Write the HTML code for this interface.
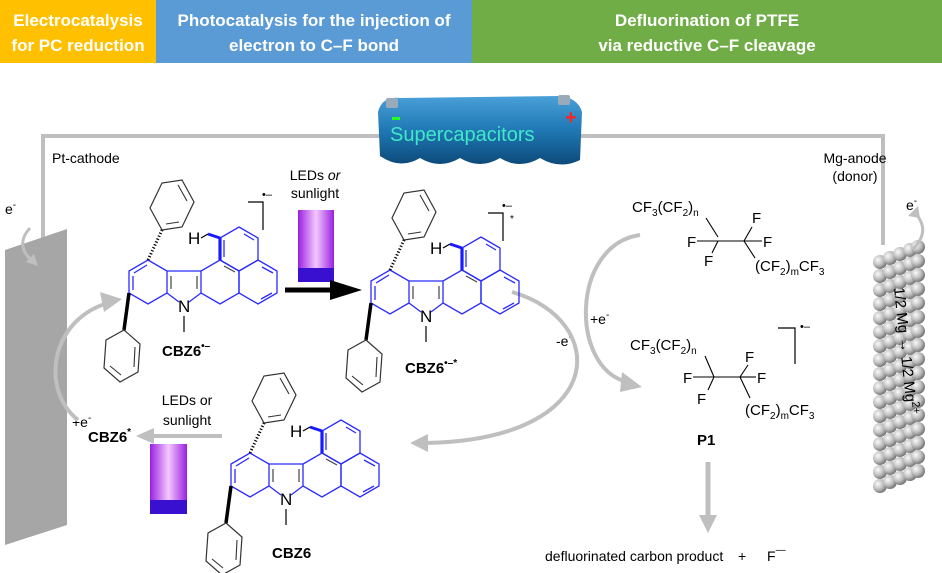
<!DOCTYPE html>
<html><head><meta charset="utf-8"><style>
html,body{margin:0;padding:0;background:#fff;}
svg{display:block;font-family:"Liberation Sans",Arial,sans-serif;}
</style></head><body>
<svg width="942" height="573" viewBox="0 0 942 573" xmlns="http://www.w3.org/2000/svg">
<defs>
 <radialGradient id="sph" cx="35%" cy="35%" r="65%"><stop offset="0" stop-color="#fafafa"/><stop offset="0.6" stop-color="#bdbdbd"/><stop offset="1" stop-color="#7a7a7a"/></radialGradient>
 <linearGradient id="led" x1="0" y1="0" x2="1" y2="0"><stop offset="0" stop-color="#9a20e0"/><stop offset="0.5" stop-color="#f4c8ff"/><stop offset="1" stop-color="#9a20e0"/></linearGradient>
 <linearGradient id="cap" x1="0" y1="0" x2="0" y2="1"><stop offset="0" stop-color="#4aa0d8"/><stop offset="0.5" stop-color="#1f78b4"/><stop offset="1" stop-color="#0d4a7a"/></linearGradient>
 <g id="row">
  <circle cx="0" cy="0" r="7"/><circle cx="10" cy="-4" r="7"/><circle cx="20" cy="-8" r="7"/><circle cx="30" cy="-12" r="7"/><circle cx="38" cy="-15" r="7"/>
 </g>
 <g id="mol">
  <g fill="none" stroke="#2a2aff" stroke-width="1.3">
   <polygon points="0,-22 19,-11 19,11 0,22 -19,11 -19,-11"/>
   <polygon points="72,-22 91,-11 91,11 72,22 53,11 53,-11"/>
   <polygon points="91,-55 110,-44 110,-22 91,-11 72,-22 72,-44"/>
   <polygon points="110,-22 129,-11 129,11 110,22 91,11 91,-11"/>
   <polyline points="19,-11 53,-11"/>
   <polyline points="19,11 31,20"/><polyline points="41,20 53,11"/>
   <line x1="-14" y1="-9" x2="-1" y2="-17"/><line x1="-15" y1="-6" x2="-15" y2="8"/>
   <line x1="96" y1="-48" x2="106" y2="-42"/><line x1="76" y1="-42" x2="76" y2="-25"/>
   <line x1="114" y1="-15" x2="125" y2="-9"/><line x1="113" y1="17" x2="124" y2="11"/>
  </g>
  <g fill="none" stroke="#444" stroke-width="1.2">
   <line x1="23" y1="-6" x2="23" y2="7"/><line x1="49" y1="-6" x2="49" y2="7"/>
   <line x1="76" y1="-16" x2="87" y2="-10"/>
  </g>
  <line x1="72" y1="-22" x2="72" y2="-44" stroke="#1a1aff" stroke-width="3.2"/>
  <line x1="72" y1="-44" x2="60" y2="-48" stroke="#1a1aff" stroke-width="3"/>
  <text x="40" y="-38" font-size="17" fill="#000">H</text>
  <line x1="53" y1="-44" x2="60" y2="-48" stroke="#000" stroke-width="1.2"/>
  <text x="30" y="30" font-size="17" fill="#000">N</text>
  <line x1="36" y1="34" x2="36" y2="50" stroke="#000" stroke-width="1.2"/>
  <line x1="0" y1="-22" x2="14" y2="-52" stroke="#000" stroke-width="3" stroke-dasharray="1.2,2"/>
  <polygon points="14,-52 34,-55 46,-80 34,-102 14,-99 2,-74" fill="none" stroke="#333" stroke-width="1.2"/>
  <line x1="18" y1="-58" x2="31" y2="-60" stroke="#333" stroke-width="1.1"/>
  <line x1="39" y1="-81" x2="30" y2="-97" stroke="#333" stroke-width="1.1"/>
  <line x1="-19" y1="11" x2="-24" y2="48" stroke="#000" stroke-width="3.5"/>
  <polygon points="-24,48 -8,62 -10,90 -28,100 -44,86 -42,58" fill="none" stroke="#333" stroke-width="1.2"/>
  <line x1="-13" y1="65" x2="-14" y2="85" stroke="#333" stroke-width="1.1"/>
  <line x1="-38" y1="84" x2="-27" y2="93" stroke="#333" stroke-width="1.1"/>
 </g>
</defs>

<rect x="0" y="0" width="156" height="63" fill="#ffc000"/>
<rect x="156" y="0" width="316" height="63" fill="#5b9bd5"/>
<rect x="472" y="0" width="470" height="63" fill="#70ad47"/>
<g fill="#fff" font-weight="bold" font-size="17" text-anchor="middle">
 <text x="78" y="26">Electrocatalysis</text><text x="78" y="51">for PC reduction</text>
 <text x="314" y="26">Photocatalysis for the injection of</text><text x="314" y="51">electron to C–F bond</text>
 <text x="707" y="26">Defluorination of PTFE</text><text x="707" y="51">via reductive C–F cleavage</text>
</g>

<polyline points="43,245 43,136 883,136 883,245" fill="none" stroke="#bfbfbf" stroke-width="4"/>
<path d="M378,112 Q382,96 400,98 L560,96 Q578,98 582,112 L580,160 Q560,170 540,158 Q520,170 500,158 Q480,170 460,158 Q440,170 420,158 Q400,170 380,156 Z" fill="url(#cap)"/>
<rect x="386" y="98" width="12" height="10" fill="#9ab" rx="2"/><rect x="558" y="95" width="12" height="10" fill="#9ab" rx="2"/>
<rect x="392" y="117" width="8" height="3" fill="#2f2"/>
<text x="565" y="124" font-size="20" fill="#f22" font-weight="bold">+</text>
<text x="390" y="141" font-size="20" fill="#40e8c8">Supercapacitors</text>

<polygon points="5,250 67,229 67,525 5,545" fill="#a6a6a6"/>
<g fill="url(#sph)">
 <use href="#row" x="880" y="262"/><use href="#row" x="880" y="276"/><use href="#row" x="880" y="290"/>
 <use href="#row" x="880" y="304"/><use href="#row" x="880" y="318"/><use href="#row" x="880" y="332"/>
 <use href="#row" x="880" y="346"/><use href="#row" x="880" y="360"/><use href="#row" x="880" y="374"/>
 <use href="#row" x="880" y="388"/><use href="#row" x="880" y="402"/><use href="#row" x="880" y="416"/>
 <use href="#row" x="880" y="430"/><use href="#row" x="880" y="444"/><use href="#row" x="880" y="458"/>
 <use href="#row" x="880" y="472"/><use href="#row" x="880" y="486"/>
</g>
<text transform="translate(894,288) rotate(84)" font-size="15" fill="#000">1/2 Mg → 1/2 Mg<tspan font-size="11" dy="-6">2+</tspan></text>

<g font-size="14" fill="#000">
 <text x="52" y="163">Pt-cathode</text>
 <text x="855" y="163" text-anchor="middle">Mg-anode</text><text x="855" y="181" text-anchor="middle">(donor)</text>
 <text x="5" y="214">e<tspan font-size="10" dy="-6">-</tspan></text>
 <text x="906" y="210">e<tspan font-size="10" dy="-6">-</tspan></text>
 <text x="315" y="180" text-anchor="middle">LEDs <tspan font-style="italic">or</tspan></text>
 <text x="315" y="198" text-anchor="middle">sunlight</text>
 <text x="187" y="405" text-anchor="middle">LEDs or</text><text x="187" y="425" text-anchor="middle">sunlight</text>
 <text x="72" y="427">+e<tspan font-size="10" dy="-6">-</tspan></text>
 <text x="556" y="346">-e<tspan font-size="10" dy="-6">-</tspan></text>
 <text x="590" y="324">+e<tspan font-size="10" dy="-6">-</tspan></text>
 <text x="545" y="561">defluorinated carbon product</text>
 <text x="738" y="561">+</text>
 <text x="767" y="561">F<tspan font-size="10" dy="-8">—</tspan></text>
</g>
<path d="M33,262 Q14,245 30,228" fill="none" stroke="#bfbfbf" stroke-width="3"/>
<polygon points="26,262 38,266 34,254" fill="#bfbfbf"/>
<path d="M913,249 Q932,230 914,212" fill="none" stroke="#bfbfbf" stroke-width="3"/>
<polygon points="908,216 918,206 920,218" fill="#bfbfbf"/>

<rect x="298" y="210" width="36" height="72" fill="url(#led)"/><rect x="298" y="268" width="36" height="14" fill="#3a10d0"/>
<rect x="150" y="444" width="37" height="70" fill="url(#led)"/><rect x="150" y="500" width="37" height="14" fill="#3a10d0"/>
<line x1="285" y1="290" x2="335" y2="290" stroke="#000" stroke-width="5"/>
<polygon points="330,280 362,290 330,300" fill="#000"/>

<path d="M78,420 C40,390 50,320 108,303" fill="none" stroke="#bfbfbf" stroke-width="4"/>
<polygon points="100,292 122,299 104,312" fill="#bfbfbf"/>
<line x1="222" y1="436" x2="150" y2="436" stroke="#bfbfbf" stroke-width="4"/>
<polygon points="154,428 136,436 154,444" fill="#bfbfbf"/>
<path d="M512,292 C610,320 610,440 425,443" fill="none" stroke="#bfbfbf" stroke-width="4"/>
<polygon points="428,434 410,443 428,452" fill="#bfbfbf"/>
<path d="M640,235 C570,245 570,370 628,382" fill="none" stroke="#bfbfbf" stroke-width="4"/>
<polygon points="622,372 642,387 620,392" fill="#bfbfbf"/>
<line x1="708" y1="462" x2="708" y2="520" stroke="#bfbfbf" stroke-width="5"/>
<polygon points="699,515 708,533 717,515" fill="#bfbfbf"/>

<use href="#mol" transform="translate(148,282)"/>
<use href="#mol" transform="translate(390,292)"/>
<use href="#mol" transform="translate(250,475)"/>

<g fill="none" stroke="#000" stroke-width="1.2">
 <polyline points="248,202 263,202 263,230"/>
 <polyline points="488,213 503,213 503,241"/>
 <polyline points="778,328 795,328 795,364"/>
</g>
<g font-size="15" fill="#000">
 <text x="262" y="198" font-size="11">•–</text>
 <text x="502" y="209" font-size="11">•–</text><text x="510" y="222" font-size="10">*</text>
 <text x="800" y="330" font-size="11">•–</text>
 <text x="162" y="356" font-weight="bold">CBZ6<tspan font-size="10" dy="-7">•–</tspan></text>
 <text x="405" y="373" font-weight="bold">CBZ6<tspan font-size="10" dy="-7">•–*</tspan></text>
 <text x="88" y="442" font-weight="bold">CBZ6<tspan font-size="10" dy="-7">*</tspan></text>
 <text x="272" y="558" font-weight="bold">CBZ6</text>
 <text x="697" y="445" font-weight="bold">P1</text>
</g>

<g font-size="15" fill="#000">
 <text x="632" y="212">CF<tspan font-size="10" dy="4">3</tspan><tspan dy="-4">(CF</tspan><tspan font-size="10" dy="4">2</tspan><tspan dy="-4">)</tspan><tspan font-size="10" dy="4">n</tspan></text>
 <text x="687" y="247">F</text><text x="704" y="266">F</text><text x="752" y="223">F</text><text x="763" y="247">F</text>
 <text x="755" y="271">(CF<tspan font-size="10" dy="4">2</tspan><tspan dy="-4">)</tspan><tspan font-size="10" dy="4">m</tspan><tspan dy="-4">CF</tspan><tspan font-size="10" dy="4">3</tspan></text>
 <text x="630" y="350">CF<tspan font-size="10" dy="4">3</tspan><tspan dy="-4">(CF</tspan><tspan font-size="10" dy="4">2</tspan><tspan dy="-4">)</tspan><tspan font-size="10" dy="4">n</tspan></text>
 <text x="683" y="383">F</text><text x="697" y="404">F</text><text x="745" y="362">F</text><text x="757" y="383">F</text>
 <text x="745" y="415">(CF<tspan font-size="10" dy="4">2</tspan><tspan dy="-4">)</tspan><tspan font-size="10" dy="4">m</tspan><tspan dy="-4">CF</tspan><tspan font-size="10" dy="4">3</tspan></text>
</g>
<g stroke="#000" stroke-width="1.1" fill="none">
 <line x1="706" y1="218" x2="718" y2="237"/><line x1="697" y1="241" x2="744" y2="241"/><line x1="718" y1="241" x2="712" y2="253"/>
 <line x1="744" y1="241" x2="752" y2="227"/><line x1="744" y1="241" x2="762" y2="241"/><line x1="744" y1="241" x2="755" y2="258"/>
 <line x1="705" y1="356" x2="714" y2="377"/><line x1="693" y1="377" x2="740" y2="377"/><line x1="714" y1="377" x2="708" y2="390"/>
 <line x1="740" y1="377" x2="748" y2="365"/><line x1="740" y1="377" x2="756" y2="377"/><line x1="740" y1="377" x2="750" y2="398"/>
</g>
</svg>
</body></html>
